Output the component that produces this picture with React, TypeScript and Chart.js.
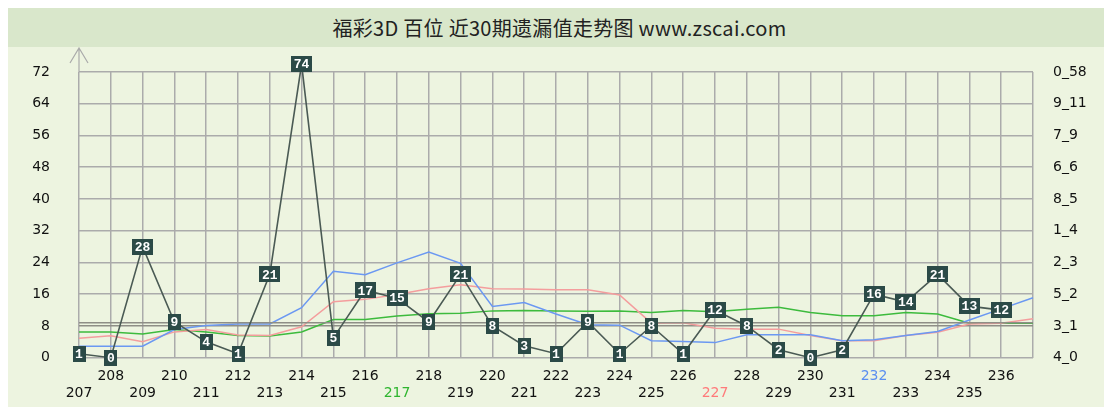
import React, { useEffect, useRef } from "react";
import { Chart, registerables } from "chart.js";

Chart.register(...registerables);

const periods = ["207","208","209","210","211","212","213","214","215","216","217","218","219","220","221","222","223","224","225","226","227","228","229","230","231","232","233","234","235","236","237"];
const missValues = [1,0,28,9,4,1,21,74,5,17,15,9,21,8,3,1,9,1,8,1,12,8,2,0,2,16,14,21,13,12];
const blueSeries = [2.9,2.9,2.9,7.1,8.1,8.5,8.5,12.6,21.8,20.9,23.9,26.6,23.8,12.9,13.9,11.0,8.3,8.2,4.3,4.1,3.8,5.8,5.8,5.8,4.3,4.5,5.6,6.6,9.5,12.3,15.1];
const redSeries = [4.9,5.5,4.0,6.5,7.1,5.7,5.6,7.8,14.1,14.7,15.9,17.4,18.4,17.4,17.3,17.1,17.1,15.8,8.7,8.8,7.4,7.2,7.2,5.6,4.3,4.3,5.6,6.4,8.5,8.7,9.8];
const greenSeries = [6.5,6.5,6.0,7.1,6.5,5.6,5.5,6.5,9.6,9.6,10.5,11.1,11.2,11.8,11.9,11.8,11.7,11.8,11.4,11.9,11.6,12.2,12.7,11.4,10.6,10.6,11.4,11.0,8.7,8.7,8.7];
const averageLine = 8.8;
const leftTicks = [0, 8, 16, 24, 32, 40, 48, 56, 64, 72];
const rightTickLabels = ["4_0","3_1","5_2","2_3","1_4","8_5","6_6","7_9","9_11","0_58"];
const highlightPeriods: Record<string, string> = { "217": "#2fb52f", "227": "#ff7a7a", "232": "#5b8ff0" };
const titleText = "福彩3D 百位 近30期遗漏值走势图 www.zscai.com";

const boxPlugin = {
  id: "boxLabels",
  afterDatasetsDraw(chart: any) {
    const ctx = chart.ctx;
    const meta = chart.getDatasetMeta(0);
    ctx.save();
    ctx.font = "bold 13px 'Liberation Mono', 'DejaVu Sans Mono', monospace";
    ctx.textAlign = "center";
    ctx.textBaseline = "middle";
    meta.data.forEach((pt: any, i: number) => {
      const txt = String(missValues[i]);
      const w = ctx.measureText(txt).width + 5;
      const h = 16;
      ctx.fillStyle = "#2b4a47";
      ctx.fillRect(Math.round(pt.x - w / 2), Math.round(pt.y - h / 2), Math.round(w), h);
      ctx.fillStyle = "#ffffff";
      ctx.fillText(txt, pt.x, pt.y + 1);
    });
    ctx.restore();
  },
  beforeDatasetsDraw(chart: any) {
    const ctx = chart.ctx;
    const area = chart.chartArea;
    ctx.save();
    ctx.strokeStyle = "#aaaaaa";
    ctx.lineWidth = 1.2;
    ctx.beginPath();
    ctx.moveTo(area.left, area.top);
    ctx.lineTo(area.left, area.top - 24);
    ctx.moveTo(area.left - 9, area.top - 9);
    ctx.lineTo(area.left, area.top - 24);
    ctx.lineTo(area.left + 9, area.top - 9);
    ctx.stroke();
    ctx.restore();
  },
};

export default function App() {
  const ref = useRef<HTMLCanvasElement>(null);
  useEffect(() => {
    if (!ref.current) return;
    const chart = new Chart(ref.current, {
      type: "line",
      data: {
        labels: periods,
        datasets: [
          { data: missValues, borderColor: "#4a5a54", borderWidth: 1.6, pointRadius: 0, tension: 0, clip: false as any, yAxisID: "y" },
          { data: periods.map(() => averageLine), borderColor: "#8e8e86", borderWidth: 1.4, pointRadius: 0, yAxisID: "y" },
          { data: blueSeries, borderColor: "#6b98f2", borderWidth: 1.5, pointRadius: 0, tension: 0, yAxisID: "y" },
          { data: redSeries, borderColor: "#f49d9d", borderWidth: 1.5, pointRadius: 0, tension: 0, yAxisID: "y" },
          { data: greenSeries, borderColor: "#3dbb3d", borderWidth: 1.5, pointRadius: 0, tension: 0, yAxisID: "y" },
        ],
      },
      options: {
        responsive: false,
        animation: false,
        devicePixelRatio: 1,
        layout: { padding: { top: 25, bottom: 0, left: 0, right: 0 } },
        plugins: { legend: { display: false }, tooltip: { enabled: false }, title: { display: false } },
        scales: {
          x: {
            type: "category",
            offset: false,
            grid: { color: "#ababab", lineWidth: 1.5, drawTicks: false },
            border: { display: false },
            ticks: {
              autoSkip: false,
              maxRotation: 0,
              minRotation: 0,
              padding: 10,
              font: { family: "'DejaVu Sans', sans-serif", size: 14, lineHeight: 1.2 },
              color: (c: any) => highlightPeriods[periods[c.index]] || "#111111",
              callback: (_v: any, i: number) => (i >= missValues.length ? "" : i % 2 === 0 ? ["", periods[i]] : [periods[i], ""]),
            },
            afterFit: (s: any) => { s.height = 42.3; },
          },
          y: {
            position: "left",
            min: 0,
            max: 72,
            afterBuildTicks: (s: any) => { s.ticks = leftTicks.map((v) => ({ value: v })); },
            grid: {
              color: (c: any) => (c.tick && c.tick.value === 8 ? "#8e8e86" : "#ababab"),
              lineWidth: 1.5,
              drawTicks: false,
            },
            border: { display: false },
            ticks: { padding: 29, font: { family: "'DejaVu Sans', sans-serif", size: 14 }, color: "#111111" },
            afterFit: (s: any) => { s.width = 72; s.paddingTop = 0; s.paddingBottom = 0; },
          },
          yR: {
            position: "right",
            min: 0,
            max: 72,
            afterBuildTicks: (s: any) => { s.ticks = leftTicks.map((v) => ({ value: v })); },
            grid: { display: false, drawTicks: false },
            border: { display: false },
            ticks: {
              padding: 20,
              font: { family: "'DejaVu Sans', sans-serif", size: 14 },
              color: "#111111",
              callback: (v: any) => rightTickLabels[leftTicks.indexOf(Number(v))],
            },
            afterFit: (s: any) => { s.width = 79; s.paddingTop = 0; s.paddingBottom = 0; },
          },
        },
      },
      plugins: [boxPlugin],
    });
    return () => chart.destroy();
  }, []);

  return (
    <div style={{ margin: "-1px 0 0 -1px", width: 1105, height: 400, background: "#edf4e0", overflow: "hidden" }}>
      <div style={{ height: 40, background: "#d9e7cb", display: "flex", alignItems: "center", justifyContent: "center", fontFamily: "'Noto Sans CJK SC', sans-serif", fontSize: 20, letterSpacing: "0.3px", color: "#222" }}>
        {titleText}
      </div>
      <canvas ref={ref} width={1105} height={353} style={{ display: "block" }} />
    </div>
  );
}
